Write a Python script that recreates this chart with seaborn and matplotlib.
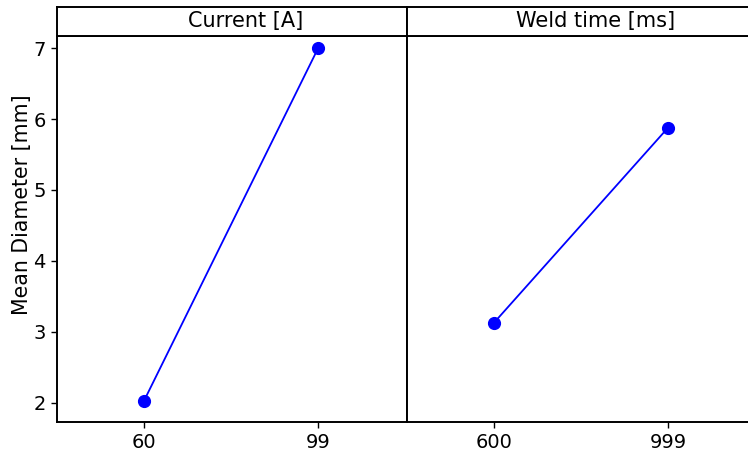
import matplotlib
matplotlib.use("Agg")
import matplotlib.pyplot as plt
import seaborn as sns
import pandas as pd

sns.set_theme(style="white")
plt.rcParams['font.family'] = ['DejaVu Sans']

factors = ["Current [A]", "Weld time [ms]"]
current_levels = ["60", "99"]
current_means = [2.03, 7.00]
weld_levels = ["600", "999"]
weld_means = [3.13, 5.88]
y_ticks = [2, 3, 4, 5, 6, 7]
y_label = "Mean Diameter [mm]"

panels = [
    (factors[0], pd.DataFrame({"level": current_levels, "mean": current_means})),
    (factors[1], pd.DataFrame({"level": weld_levels, "mean": weld_means})),
]

W, H = 748, 451
fig = plt.figure(figsize=(W / 100, H / 100), dpi=100)

def fx(px):
    return px / W

def fy(py):
    return (H - py) / H

panel_w = 350
lefts = [57, 407]
axes = []
for i, (name, df) in enumerate(panels):
    ax = fig.add_axes([fx(lefts[i]), fy(422), fx(panel_w), (422 - 36) / H])
    sns.pointplot(data=df, x="level", y="mean", order=list(df["level"]),
                  color="blue", ax=ax, markersize=8.5, linewidth=1.3)
    ax.set_xlim(-0.5, 1.51)
    ax.set_ylim(1.73, 7.17)
    ax.set_xlabel("")
    ax.set_ylabel("")
    for s in ax.spines.values():
        s.set_color("black")
        s.set_linewidth(1.4)
    ax.tick_params(axis="x", labelsize=14, length=4, width=1, color="black",
                   direction="out", bottom=True, pad=4, labelcolor="black")
    ax.set_yticks(y_ticks)
    if i == 0:
        ax.tick_params(axis="y", labelsize=14, length=4, width=1, color="black",
                       direction="out", left=True, pad=4, labelcolor="black")
    else:
        ax.set_yticklabels([])
        ax.tick_params(axis="y", left=False)
    ax.grid(False)
    axes.append(ax)

    sax = fig.add_axes([fx(lefts[i]), fy(36), fx(panel_w), (36 - 7) / H])
    sax.set_xticks([])
    sax.set_yticks([])
    for s in sax.spines.values():
        s.set_color("black")
        s.set_linewidth(1.4)
    sax.text(0.5 + 14 / panel_w, 0.5, name, transform=sax.transAxes,
             ha="center", va="center", fontsize=15, color="black")

fig.text(fx(22), fy(205), y_label, rotation=90, ha="center", va="center",
         fontsize=14.8, color="black")

fig.savefig("out.png", dpi=100)
